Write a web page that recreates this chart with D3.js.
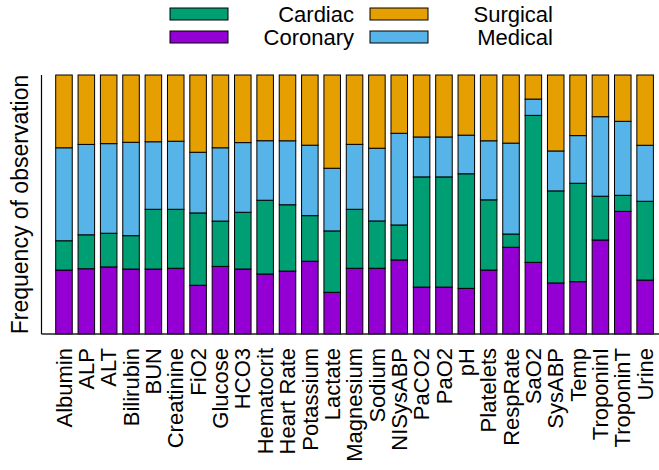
<!DOCTYPE html>
<html>
<head>
<meta charset="utf-8">
<script src="https://cdn.jsdelivr.net/npm/d3@7"></script>
<style>
  html, body { margin: 0; padding: 0; background: #fff; }
  svg { display: block; }
  text { font-family: "Liberation Sans", Arial, Helvetica, sans-serif; fill: #000; }
</style>
</head>
<body>
<svg id="chart" width="659" height="470"></svg>
<script>
const categories = ["Albumin","ALP","ALT","Bilirubin","BUN","Creatinine","FiO2","Glucose","HCO3","Hematocrit","Heart Rate","Potassium","Lactate","Magnesium","Sodium","NISysABP","PaCO2","PaO2","pH","Platelets","RespRate","SaO2","SysABP","Temp","TroponinI","TroponinT","Urine"];
const coronary = [24.7,25.2,25.9,25.1,25.1,25.4,18.8,26.1,25.1,23.2,24.3,28.1,16.1,25.4,25.4,28.6,18.1,18.1,17.6,24.7,33.5,27.7,19.7,20.2,36.3,47.4,20.8];
const cardiac  = [11.3,13.1,13.0,12.9,23.1,22.8,27.9,17.5,21.9,28.5,25.6,17.6,23.7,22.8,18.3,13.5,42.5,42.5,44.2,27.1,5.1,56.8,35.5,38.0,16.9,6.2,30.4];
const medical  = [35.9,34.9,34.6,36.1,26.1,26.3,23.4,28.3,26.9,23.0,24.7,27.2,24.2,25.1,28.1,35.4,15.4,15.4,14.9,22.8,35.1,6.3,15.4,18.4,30.7,28.6,21.6];
const surgical = [28.1,26.8,26.5,26.0,25.8,25.6,29.8,28.1,26.1,25.4,25.4,27.1,36.0,26.8,28.3,22.5,23.9,23.9,23.2,25.4,26.3,9.3,29.3,23.4,16.1,17.9,27.1];

const seriesKeys = ["Coronary","Cardiac","Medical","Surgical"];
const seriesValues = {Coronary: coronary, Cardiac: cardiac, Medical: medical, Surgical: surgical};
const colors = {Cardiac: "#009E73", Coronary: "#9400D3", Surgical: "#E69F00", Medical: "#56B4E9"};
const legendRows = [["Cardiac","Surgical"],["Coronary","Medical"]];

const table = categories.map((c, i) => {
  const row = {category: c};
  seriesKeys.forEach(k => row[k] = seriesValues[k][i]);
  return row;
});

const svg = d3.select("#chart");
const plot = {left: 41.5, right: 659, top: 75, bottom: 334};

const x = d3.scaleBand().domain(categories).range([52.8, 656.3]).paddingInner(0.26).paddingOuter(0.13);
const y = d3.scaleLinear().domain([0, 1]).range([plot.bottom, plot.top]);

const stacked = d3.stack().keys(seriesKeys).offset(d3.stackOffsetExpand)(table);

svg.append("g").selectAll("g").data(stacked).join("g")
  .attr("fill", d => colors[d.key])
  .selectAll("rect").data(d => d).join("rect")
  .attr("x", d => x(d.data.category))
  .attr("width", x.bandwidth())
  .attr("y", d => y(d[1]))
  .attr("height", d => y(d[0]) - y(d[1]))
  .attr("stroke", "#000")
  .attr("stroke-width", 1);

// axes lines
svg.append("line").attr("x1", plot.left).attr("x2", plot.left).attr("y1", plot.top).attr("y2", plot.bottom)
  .attr("stroke", "#000").attr("stroke-width", 1.2);
svg.append("line").attr("x1", plot.left).attr("x2", plot.right).attr("y1", plot.bottom).attr("y2", plot.bottom)
  .attr("stroke", "#222").attr("stroke-width", 1.6);

// x tick labels via axis
const xAxis = d3.axisBottom(x).tickSize(0).tickPadding(0);
const gx = svg.append("g").attr("transform", `translate(0,${plot.bottom})`).call(xAxis);
gx.select(".domain").remove();
gx.selectAll("text")
  .attr("font-size", 22)
  .attr("text-anchor", "end")
  .attr("transform", "rotate(-90)")
  .attr("x", -14)
  .attr("y", 0)
  .attr("dy", "0.35em")
  .style("font-family", '"Liberation Sans", Arial, sans-serif');

// y title
svg.append("text")
  .attr("transform", `translate(28,${(plot.top + plot.bottom) / 2}) rotate(-90)`)
  .attr("text-anchor", "middle")
  .attr("font-size", 23)
  .text("Frequency of observation");

// legend
const legCols = [{sw: 170, txt: 354}, {sw: 370, txt: 553}];
const legRowsY = [{sw: 8, txt: 22}, {sw: 31, txt: 45}];
legendRows.forEach((row, ri) => {
  row.forEach((key, ci) => {
    svg.append("rect")
      .attr("x", legCols[ci].sw).attr("y", legRowsY[ri].sw)
      .attr("width", 58).attr("height", 12)
      .attr("fill", colors[key]).attr("stroke", "#000").attr("stroke-width", 1);
    svg.append("text")
      .attr("x", legCols[ci].txt).attr("y", legRowsY[ri].txt)
      .attr("text-anchor", "end").attr("font-size", 22)
      .text(key);
  });
});
</script>
</body>
</html>
